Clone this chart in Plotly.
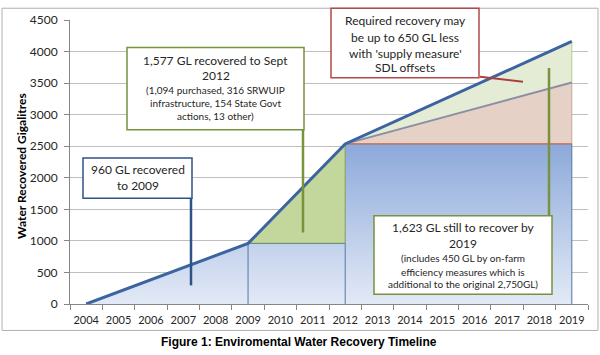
import plotly.graph_objects as go

# ---------------- data ----------------
key_years = [2004, 2009, 2012, 2019]
recovery_path = [0, 960, 2537, 4160]          # required recovery path (blue line)
offset_years = [2012, 2019]
offset_path = [2537, 3510]                    # with 650 GL supply-measure offsets
recovered_sept_2012 = 2537
recovered_2009 = 960
year_labels = ["2004", "2005", "2006", "2007", "2008", "2009", "2010", "2011",
               "2012", "2013", "2014", "2015", "2016", "2017", "2018", "2019"]
year_vals = [int(y) for y in year_labels]
y_ticks = [0, 500, 1000, 1500, 2000, 2500, 3000, 3500, 4000, 4500]

# ---------------- geometry helpers (pixels -> paper) ----------------
L, R, T, B = 70, 588, 14, 304
W, H = R - L, B - T
def px(x):
    return (x - L) / W
def py(y):
    return (B - y) / H

TXT = "Lato"
fig = go.Figure()

y0, y1, y2, y3 = key_years
v0, v1, v2, v3 = recovery_path

# blue gradient area
fig.add_trace(go.Scatter(
    x=[y0, y1, y2, y2, y3, y3, y0],
    y=[v0, v1, v1, v2, v2, 0, 0],
    fill="toself", mode="lines", line=dict(width=0),
    fillgradient=dict(type="vertical", start=0, stop=recovered_sept_2012,
                      colorscale=[[0, "#e6ecf7"], [1, "#8eaadb"]]),
    hoverinfo="skip", showlegend=False))

# green triangle 2009-2012
fig.add_trace(go.Scatter(
    x=[y1, y2, y2, y1], y=[v1, v2, v1, v1],
    fill="toself", fillcolor="#c3d69b", mode="lines",
    line=dict(color="#7f9a5a", width=1), hoverinfo="skip", showlegend=False))

# tan region (offset)
fig.add_trace(go.Scatter(
    x=[offset_years[0], offset_years[1], offset_years[1], offset_years[0]],
    y=[offset_path[0], offset_path[1], recovered_sept_2012, recovered_sept_2012],
    fill="toself", fillcolor="#e6d1c6", mode="lines", line=dict(width=0),
    hoverinfo="skip", showlegend=False))

# light green region
fig.add_trace(go.Scatter(
    x=[y2, y3, y3, y2], y=[v2, v3, offset_path[1], v2],
    fill="toself", fillcolor="#e5ecd6", mode="lines", line=dict(width=0),
    hoverinfo="skip", showlegend=False))

def seg(xs, ys, color, width):
    fig.add_trace(go.Scatter(x=xs, y=ys, mode="lines",
                             line=dict(color=color, width=width),
                             hoverinfo="skip", showlegend=False))

# vertical separators
seg([y1, y1], [0, v1], "#56779f", 1)
seg([y2, y2], [0, v1], "#56779f", 1)
seg([y3, y3], [0, recovered_sept_2012], "#56779f", 1)
seg([y3, y3], [recovered_sept_2012, offset_path[1]], "#c9a79a", 1)
seg([y3, y3], [offset_path[1], v3], "#b9cc95", 1)
# horizontal at 960 and at 2537
seg([y1, y2], [recovered_2009, recovered_2009], "#6f8c78", 1)
seg([y2, y3], [recovered_sept_2012, recovered_sept_2012], "#c0604d", 1.2)
# offset (grey) line
seg(offset_years, offset_path, "#8c8ea3", 2)
# main blue line
seg(key_years, recovery_path, "#3b64a0", 3)

# ---------------- boxes & connectors ----------------
shapes = []
def line_px(x0, y0_, x1, y1_, color, width):
    shapes.append(dict(type="line", xref="paper", yref="paper",
                       x0=px(x0), y0=py(y0_), x1=px(x1), y1=py(y1_),
                       line=dict(color=color, width=width), layer="above"))
def box_px(x0, y0_, x1, y1_, color, width=1.5):
    shapes.append(dict(type="rect", xref="paper", yref="paper",
                       x0=px(x0), y0=py(y0_), x1=px(x1), y1=py(y1_),
                       line=dict(color=color, width=width), fillcolor="white",
                       layer="above"))

# outer chart border
shapes.append(dict(type="rect", xref="paper", yref="paper",
                   x0=px(2), y0=py(2), x1=px(598), y1=py(331),
                   line=dict(color="#b0b0b0", width=1), layer="below"))

line_px(191, 196, 191, 285, "#2f5387", 2.5)
line_px(303, 126, 303, 231, "#77933c", 2.5)
line_px(480, 72, 523, 77, "#a9403c", 2)
line_px(549, 214, 549, 63, "#77933c", 2.5)

box_px(83, 155, 192, 196, "#2f5387")
box_px(127, 42, 304, 126, "#77933c")
box_px(331, 2, 479, 73, "#b04a48")
box_px(374, 214, 552, 294, "#77933c")

annotations = []
def text_px(s, x, y, size, color="#262626", bold=False, family=TXT):
    annotations.append(dict(text=("<b>%s</b>" % s) if bold else s,
                            xref="paper", yref="paper", x=px(x), y=py(y),
                            xanchor="center", yanchor="middle", showarrow=False,
                            font=dict(family=family, size=size, color=color)))

BIG, SMALL = 12, 10
text_px("960 GL recovered", 137.5, 167, BIG)
text_px("to 2009", 137.5, 183, BIG)

text_px("1,577 GL recovered to Sept", 215.5, 55, BIG)
text_px("2012", 215.5, 71, BIG)
text_px("(1,094 purchased, 316 SRWUIP", 215.5, 85, SMALL)
text_px("infrastructure, 154 State Govt", 215.5, 99, SMALL)
text_px("actions, 13 other)", 215.5, 112, SMALL)

text_px("Required recovery may", 405, 15, BIG)
text_px("be up to 650 GL less", 405, 32, BIG)
text_px("with 'supply measure'", 405, 48, BIG)
text_px("SDL offsets", 405, 63, BIG)

text_px("1,623 GL still to recover by", 463, 226, BIG)
text_px("2019", 463, 242, BIG)
text_px("(includes 450 GL by on-farm", 463, 257, SMALL)
text_px("efficiency measures which is", 463, 271, SMALL)
text_px("additional to the original 2,750GL)", 463, 284, SMALL)

# y-axis title
annotations.append(dict(text="<b>Water Recovered Gigalitres</b>", xref="paper", yref="paper",
                        x=px(22), y=py(163), textangle=-90, showarrow=False,
                        xanchor="center", yanchor="middle",
                        font=dict(family=TXT, size=12, color="#000000")))
# figure caption
annotations.append(dict(text="<b>Figure 1: Enviromental Water Recovery Timeline</b>",
                        xref="paper", yref="paper", x=px(299), y=py(343),
                        showarrow=False, xanchor="center", yanchor="middle",
                        font=dict(family="Liberation Sans", size=12, color="#000000")))

fig.update_layout(
    width=600, height=355,
    margin=dict(l=L, r=600 - R, t=T, b=355 - B),
    paper_bgcolor="white", plot_bgcolor="white",
    shapes=shapes, annotations=annotations,
    showlegend=False,
    xaxis=dict(range=[year_vals[0] - 0.5, year_vals[-1] + 0.5],
               tickvals=year_vals, ticktext=year_labels,
               ticks="outside", ticklen=6, tickcolor="rgba(0,0,0,0)",
               minor=dict(tickmode="linear", tick0=year_vals[0] - 0.5, dtick=1,
                          ticks="outside", ticklen=5, tickcolor="#868686",
                          showgrid=False),
               showgrid=False, zeroline=False,
               showline=True, linecolor="#868686", linewidth=1,
               tickfont=dict(family=TXT, size=11, color="#262626"),
               fixedrange=True),
    yaxis=dict(range=[y_ticks[0], y_ticks[-1]], tickvals=y_ticks,
               ticks="outside", ticklen=5, tickcolor="#868686",
               showgrid=True, gridcolor="#bfbfbf", gridwidth=1,
               zeroline=False, showline=True, linecolor="#868686", linewidth=1,
               tickfont=dict(family=TXT, size=12, color="#262626"),
               ticklabelstandoff=4, fixedrange=True),
)

fig.write_html("out.html", config={"displayModeBar": False},
               post_script="document.body.style.margin='0';document.body.style.overflow='hidden';")
